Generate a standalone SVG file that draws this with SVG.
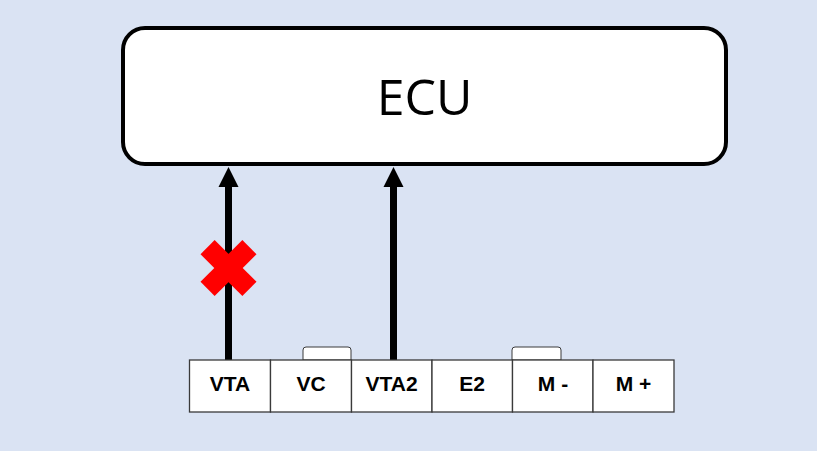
<svg xmlns="http://www.w3.org/2000/svg" width="817" height="451" viewBox="0 0 817 451">
<defs>
<style>
.cell{fill:#fff;stroke:#3a3a3a;stroke-width:1.3}
.tab{fill:#fff;stroke:#3a3a3a;stroke-width:1}
.lbl{font-family:"Liberation Sans",Arial,sans-serif;font-weight:bold;font-size:21px;text-anchor:middle;fill:#000}
.wire{stroke:#000;stroke-width:7;fill:none}
.head{fill:#000}
</style>
</defs>
<rect width="817" height="451" fill="#DAE3F3"/>
<g id="ecu">
<rect x="123" y="28" width="603" height="136" rx="22" ry="22" fill="#fff" stroke="#000" stroke-width="4"/>
<text x="424.5" y="115" font-family="'Open Sans','Liberation Sans',sans-serif" font-size="50" text-anchor="middle" fill="#000">ECU</text>
</g>
<g id="connectors">
<line class="wire" x1="228.5" y1="360" x2="228.5" y2="186"/>
<path class="head" d="M218.5,187 L238.5,187 L228.5,167 Z"/>
<line class="wire" x1="393.5" y1="360" x2="393.5" y2="186"/>
<path class="head" d="M383.5,187 L403.5,187 L393.5,167 Z"/>
</g>
<g id="cross" fill="#FF0000">
<rect x="198.9" y="258" width="59.2" height="20" transform="rotate(45 228.5 268)"/>
<rect x="198.9" y="258" width="59.2" height="20" transform="rotate(-45 228.5 268)"/>
</g>
<g id="connector-block">
<path class="tab" d="M303,360 V350 Q303,347 306,347 H348 Q351,347 351,350 V360 Z"/>
<path class="tab" d="M512,360 V350 Q512,347 515,347 H558 Q561,347 561,350 V360 Z"/>
<g id="pin-vta"><rect class="cell" x="189.5" y="360" width="81" height="52"/><text class="lbl" x="230" y="390.5">VTA</text></g>
<g id="pin-vc"><rect class="cell" x="270.5" y="360" width="81" height="52"/><text class="lbl" x="311" y="390.5">VC</text></g>
<g id="pin-vta2"><rect class="cell" x="351.5" y="360" width="80.5" height="52"/><text class="lbl" x="391.5" y="390.5">VTA2</text></g>
<g id="pin-e2"><rect class="cell" x="432" y="360" width="80.5" height="52"/><text class="lbl" x="472" y="390.5">E2</text></g>
<g id="pin-mminus"><rect class="cell" x="512.5" y="360" width="80.5" height="52"/><text class="lbl" x="553" y="390.5">M -</text></g>
<g id="pin-mplus"><rect class="cell" x="593" y="360" width="81" height="52"/><text class="lbl" x="633.5" y="390.5">M +</text></g>
</g>
</svg>
